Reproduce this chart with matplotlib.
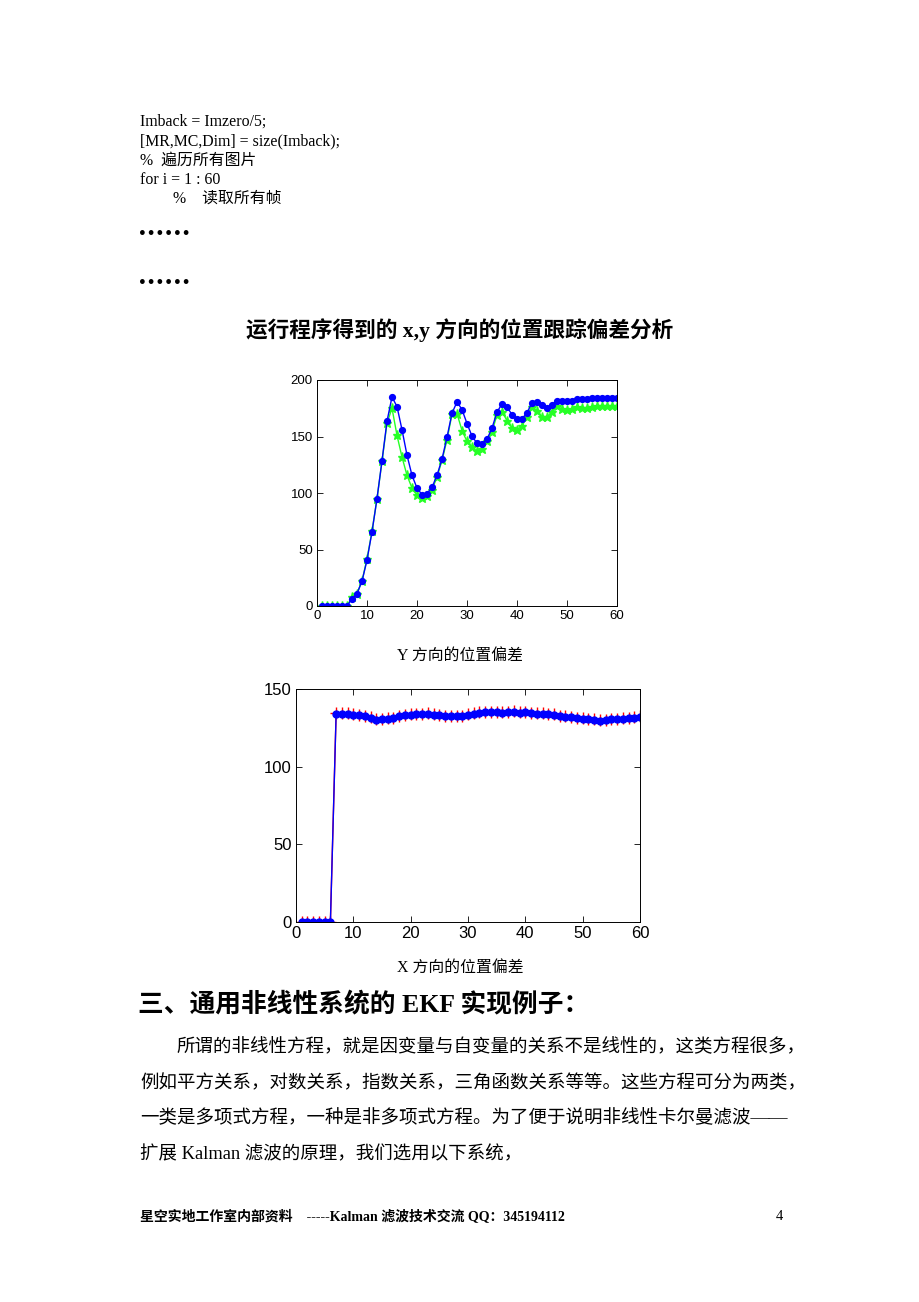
import matplotlib
matplotlib.use("Agg")
import matplotlib.pyplot as plt

# ---------------- data ----------------
frames = list(range(1, 61))

y_est = [0, 0, 0, 0, 0, 0, 6.5, 11, 22, 40.6, 65.6, 95, 128.5, 163.5, 185, 176.5, 156, 133.5, 115.6, 104.4,
         98.5, 99.4, 105, 115.6, 130, 149.4, 170.6, 180.6, 173.8, 161.5, 150.3, 144, 143.5, 147.6, 157.4, 171.5,
         179, 176, 169.4, 165.6, 165.6, 171, 180, 180.6, 177.6, 175.3, 178.2, 181.8, 181.8, 181.8, 181.8, 183.2,
         183.2, 183.2, 184.4, 184.4, 184.4, 184.4, 184.4, 184.4]
y_meas = [0, 0, 0, 0, 0, 0, 7.6, 11, 22, 41.8, 66, 95, 128, 161.8, 175, 151, 131.8, 115.6, 104.4, 98.2,
          95.3, 97, 103, 114, 128.8, 147, 169.7, 170.3, 155.3, 145.6, 140.3, 137, 139, 145.6, 154.4, 169,
          172, 164, 157.4, 155.6, 159.4, 167.4, 176.5, 172.6, 167, 167, 172, 177.4, 174, 173.2, 174.7, 176.2,
          175.3, 175.6, 176, 177, 177, 177, 177, 177]

x_est = [0, 0, 0, 0, 0, 0, 134.1, 134.1, 134.1, 133.5, 133, 132.6, 131.5, 130.3, 130.5, 130.9, 131.3, 132.4,
         133, 133.5, 133.9, 133.9, 133.9, 133.5, 133, 132.6, 132.4, 132.4, 132.4, 133.3, 134.1, 134.5, 135,
         135.2, 135, 134.8, 135, 135.2, 134.8, 135, 134.5, 134.1, 134.1, 133.7, 133.3, 132.6, 132.2, 131.8,
         131.3, 130.9, 130.5, 130, 129.4, 130, 130.5, 130.7, 130.9, 131.1, 131.5, 132.2]
x_meas = [0, 0, 0, 0, 0, 0, 134.5, 134.3, 134.6, 133.8, 133.4, 132.9, 132.0, 130.8, 130.6, 131.2, 131.5, 132.7,
          133.3, 133.9, 134.2, 134.1, 134.3, 133.7, 133.2, 132.9, 132.5, 132.7, 132.6, 133.6, 134.4, 134.9, 135.4,
          135.5, 135.3, 135.1, 135.4, 135.6, 135.1, 135.3, 134.8, 134.5, 134.3, 134.0, 133.6, 132.9, 132.5, 132.1,
          131.6, 131.2, 130.8, 130.4, 129.8, 130.3, 130.8, 131.0, 131.2, 131.4, 131.8, 132.5]

xticks = [0, 10, 20, 30, 40, 50, 60]
yticks_top = [0, 50, 100, 150, 200]
yticks_bot = [0, 50, 100, 150]

code_lines = ["Imback = Imzero/5;", "[MR,MC,Dim] = size(Imback);", "%  遍历所有图片", "for i = 1 : 60"]
code_indent_line = "%    读取所有帧"
title_text = "运行程序得到的 x,y 方向的位置跟踪偏差分析"
cap_y = "Y 方向的位置偏差"
cap_x = "X 方向的位置偏差"
heading = "三、通用非线性系统的 EKF 实现例子："
para = ["所谓的非线性方程，就是因变量与自变量的关系不是线性的，这类方程很多，",
        "例如平方关系，对数关系，指数关系，三角函数关系等等。这些方程可分为两类，",
        "一类是多项式方程，一种是非多项式方程。为了便于说明非线性卡尔曼滤波——",
        "扩展 Kalman 滤波的原理，我们选用以下系统，"]
footer = "星空实地工作室内部资料    -----Kalman 滤波技术交流 QQ：345194112"
page_no = "4"

# ---------------- figure ----------------
W, H = 920, 1302
fig = plt.figure(figsize=(W / 100, H / 100), dpi=100)
fig.patch.set_facecolor("white")

SERIF = ["Liberation Serif", "Noto Sans CJK SC", "DejaVu Sans"]


def px(x, y):
    return x / W, 1 - y / H


def txt(x, y, s, size, weight="normal", ha="left", family=SERIF):
    fx, fy = px(x, y)
    fig.text(fx, fy, s, fontsize=size, fontweight=weight, ha=ha, va="center", family=family, color="black")


# code block
for i, line in enumerate(code_lines):
    txt(140, 122 + i * 19.3, line, 11.4)
txt(173, 199, code_indent_line, 11.4)
txt(138, 234, "••••••", 9.8, weight="bold", family=["DejaVu Sans"])
txt(138, 283, "••••••", 9.8, weight="bold", family=["DejaVu Sans"])

# title
txt(460, 330, title_text, 15.6, weight="bold", ha="center")


def style_axes(ax, fs):
    ax.tick_params(direction="in", top=True, right=True, labelsize=fs, length=4, width=0.6, pad=3)
    for sp in ax.spines.values():
        sp.set_linewidth(0.7)
    for lab in ax.get_xticklabels() + ax.get_yticklabels():
        lab.set_family(["Liberation Sans", "DejaVu Sans"])


# top chart
ax1 = fig.add_axes([317 / W, 1 - 606 / H, 300 / W, 226 / H])
ax1.plot(frames, y_meas, color=(0.15, 1.0, 0.15), marker="*", markersize=6.5, linewidth=1.0)
ax1.plot(frames, y_est, color=(0.0, 0.0, 1.0), marker="o", markersize=4.2, linewidth=1.0)
ax1.set_xlim(0, 60)
ax1.set_ylim(0, 200)
ax1.set_xticks(xticks)
ax1.set_yticks(yticks_top)
style_axes(ax1, 9.5)

txt(460, 656, cap_y, 11.4, ha="center")

# bottom chart
ax2 = fig.add_axes([296 / W, 1 - 922 / H, 344 / W, 233 / H])
ax2.plot(frames, x_meas, color="red", marker="+", markersize=8, linewidth=1.0, markeredgewidth=1.0)
ax2.plot(frames, x_est, color="blue", marker="o", markersize=5, linewidth=1.0)
ax2.set_xlim(0, 60)
ax2.set_ylim(0, 150)
ax2.set_xticks(xticks)
ax2.set_yticks(yticks_bot)
style_axes(ax2, 12)

txt(460, 968, cap_x, 11.4, ha="center")

# heading & paragraph
txt(138, 1005, heading, 18.5, weight="bold")
txt(176, 1047, para[0], 13.3)
txt(140, 1083, para[1], 13.3)
txt(140, 1118, para[2], 13.3)
txt(140, 1155, para[3], 13.3)

# footer
txt(140, 1216, footer, 10, weight="bold")
txt(776, 1216, page_no, 10.5)

fig.savefig("out.png", dpi=100, facecolor="white")
